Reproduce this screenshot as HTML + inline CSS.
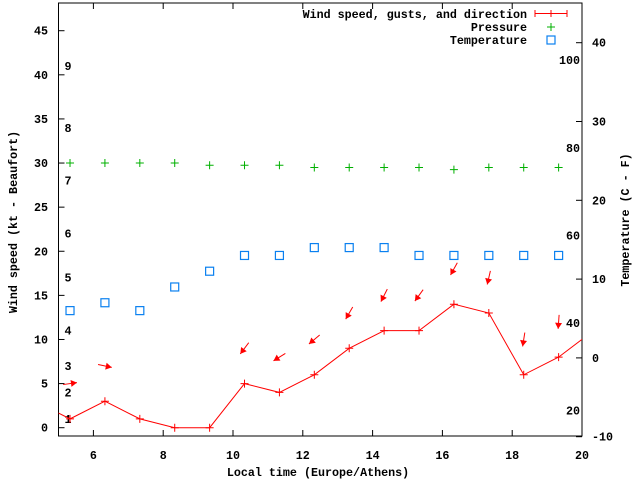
<!DOCTYPE html>
<html><head><meta charset="utf-8"><style>
html,body{margin:0;padding:0;background:#fff;}
svg text{font-family:"Liberation Mono",monospace;font-weight:bold;font-size:11.7px;fill:#000;}
</style></head><body>
<svg id="chart" width="640" height="480" xmlns="http://www.w3.org/2000/svg"></svg>
<script>
const times = [4.33,5.33,6.33,7.33,8.33,9.33,10.33,11.33,12.33,13.33,14.33,15.33,16.33,17.33,18.33,19.33,20.33];
const windSpeed = [3,1,3,1,0,0,5,4,6,9,11,11,14,13,6,8,11];
const gusts = [null,5,7,null,null,null,9,8,10,13,15,15,18,17,10,12,null];
const windDir = [null,262,282,null,null,null,37,58,50,30,27,36,29,13,9,4,null];
const pressure = [null,30,30,30,30,29.75,29.75,29.75,29.5,29.5,29.5,29.5,29.25,29.5,29.5,29.5,null];
const tempC = [null,6,7,6,9,11,13,13,14,14,14,13,13,13,13,13,null];
const xTicks = [6,8,10,12,14,16,18,20];
const yTicks = [0,5,10,15,20,25,30,35,40,45];
const cTicks = [-10,0,10,20,30,40];
const fTicks = [20,40,60,80,100];
const beaufortKt = [1,4,7,11,17,22,28,34,41];

const L=58.5,R=582,T=3,B=436;
const X=t=>L+(t-5)*(R-L)/15;
const Y=v=>427.7-v*8.822;
const YC=c=>357.9-c*7.88;
const svg=document.getElementById('chart');
const NS='http://www.w3.org/2000/svg';
function mk(tag,attrs,parent){const e=document.createElementNS(NS,tag);for(const k in attrs)e.setAttribute(k,attrs[k]);(parent||svg).appendChild(e);return e;}
function txt(s,x,y,anchor,parent){const e=mk('text',{x:x,y:y,'text-anchor':anchor||'start'},parent);e.textContent=s;return e;}

// clip
const defs=mk('defs',{});const cp=mk('clipPath',{id:'pc'},defs);mk('rect',{x:L,y:T,width:R-L,height:B-T},cp);

// axes
const axes=mk('g',{});


mk('rect',{x:L,y:T,width:R-L,height:B-T,fill:'none',stroke:'#000','stroke-width':1},axes);
xTicks.forEach(t=>{const x=X(t);
 mk('line',{x1:x,y1:B,x2:x,y2:B-6,stroke:'#000'},axes);
 mk('line',{x1:x,y1:T,x2:x,y2:T+6,stroke:'#000'},axes);
 const e=txt(String(t),x,459,'middle',axes);
 
 
});
yTicks.forEach(v=>{const y=Y(v);
 mk('line',{x1:L,y1:y,x2:L+6,y2:y,stroke:'#000'},axes);
 const e=txt(String(v),48,y+4,'end',axes);
 
 
});
cTicks.forEach(c=>{const y=YC(c);
 mk('line',{x1:R,y1:y,x2:R-6,y2:y,stroke:'#000'},axes);
 const e=txt(String(c),592,y+4,'start',axes);
 
 
});
fTicks.forEach(f=>{const y=YC((f-32)*5/9);
 const e=txt(String(f),580,y+4,'end',axes);
 
 
});
beaufortKt.forEach((k,i)=>{
 const e=txt(String(i+1),68,Y(k)+4,'middle',axes);
 
 
});
let t1=txt('Local time (Europe/Athens)',318,476,'middle');


let t2=txt('Wind speed (kt - Beaufort)',0,0,'middle');
t2.setAttribute('transform','translate(17,222) rotate(-90)');


let t3=txt('Temperature (C - F)',0,0,'middle');
t3.setAttribute('transform','translate(629,220) rotate(-90)');



const plot=mk('g',{'clip-path':'url(#pc)'});



function plus(x,y,c,g){mk('path',{d:`M${x-4},${y}H${x+4}M${x},${y-4}V${y+4}`,stroke:c,'stroke-width':1,fill:'none'},g);}

// pressure
pressure.forEach((p,i)=>{if(p===null)return;
 const g=mk('g',{},plot);
 
 
 plus(X(times[i]),Y(p),'#00b000',g);
});
// temperature
tempC.forEach((c,i)=>{if(c===null)return;
 const r=mk('rect',{x:X(times[i])-4,y:YC(c)-4,width:8,height:8,fill:'none',stroke:'#0a80f0','stroke-width':1.2},plot);
 
 
});
// wind line
const pts=times.map((t,i)=>X(t)+','+Y(windSpeed[i])).join(' ');
const wl=mk('polyline',{points:pts,fill:'none',stroke:'#f00','stroke-width':1},plot);


windSpeed.forEach((v,i)=>{
 const g=mk('g',{},plot);
 
 
 plus(X(times[i]),Y(v),'#f00',g);
});
// direction arrows at gust level
gusts.forEach((gv,i)=>{if(gv===null||windDir[i]===null)return;
 const d=windDir[i]*Math.PI/180,Ln=14;
 const dx=-Math.sin(d)*Ln,dy=Math.cos(d)*Ln;
 const cx=X(times[i]),cy=Y(gv);
 const x1=cx-dx/2,y1=cy-dy/2,x2=cx+dx/2,y2=cy+dy/2;
 const ux=dx/Ln,uy=dy/Ln;
 const bx=x2-ux*6,by=y2-uy*6;
 const g=mk('g',{},plot);
 
 
 mk('line',{x1:x1,y1:y1,x2:x2,y2:y2,stroke:'#f00','stroke-width':1},g);
 mk('polygon',{points:`${x2},${y2} ${bx-uy*3.5},${by+ux*3.5} ${bx+uy*3.5},${by-ux*3.5}`,fill:'#f00'},g);
});

// legend
const lg=mk('g',{});


const le1=mk('g',{},lg);


txt('Wind speed, gusts, and direction',527,18,'end',le1);
mk('path',{d:'M535,13.5H567M535,10V17M567,10V17M551,10V17',stroke:'#f00',fill:'none'},le1);
const le2=mk('g',{},lg);


txt('Pressure',527,31,'end',le2);
plus(551,27,'#00b000',le2);
const le3=mk('g',{},lg);


txt('Temperature',527,44,'end',le3);
mk('rect',{x:547,y:36,width:8,height:8,fill:'none',stroke:'#0a80f0','stroke-width':1.2},le3);
</script>
</body></html>
